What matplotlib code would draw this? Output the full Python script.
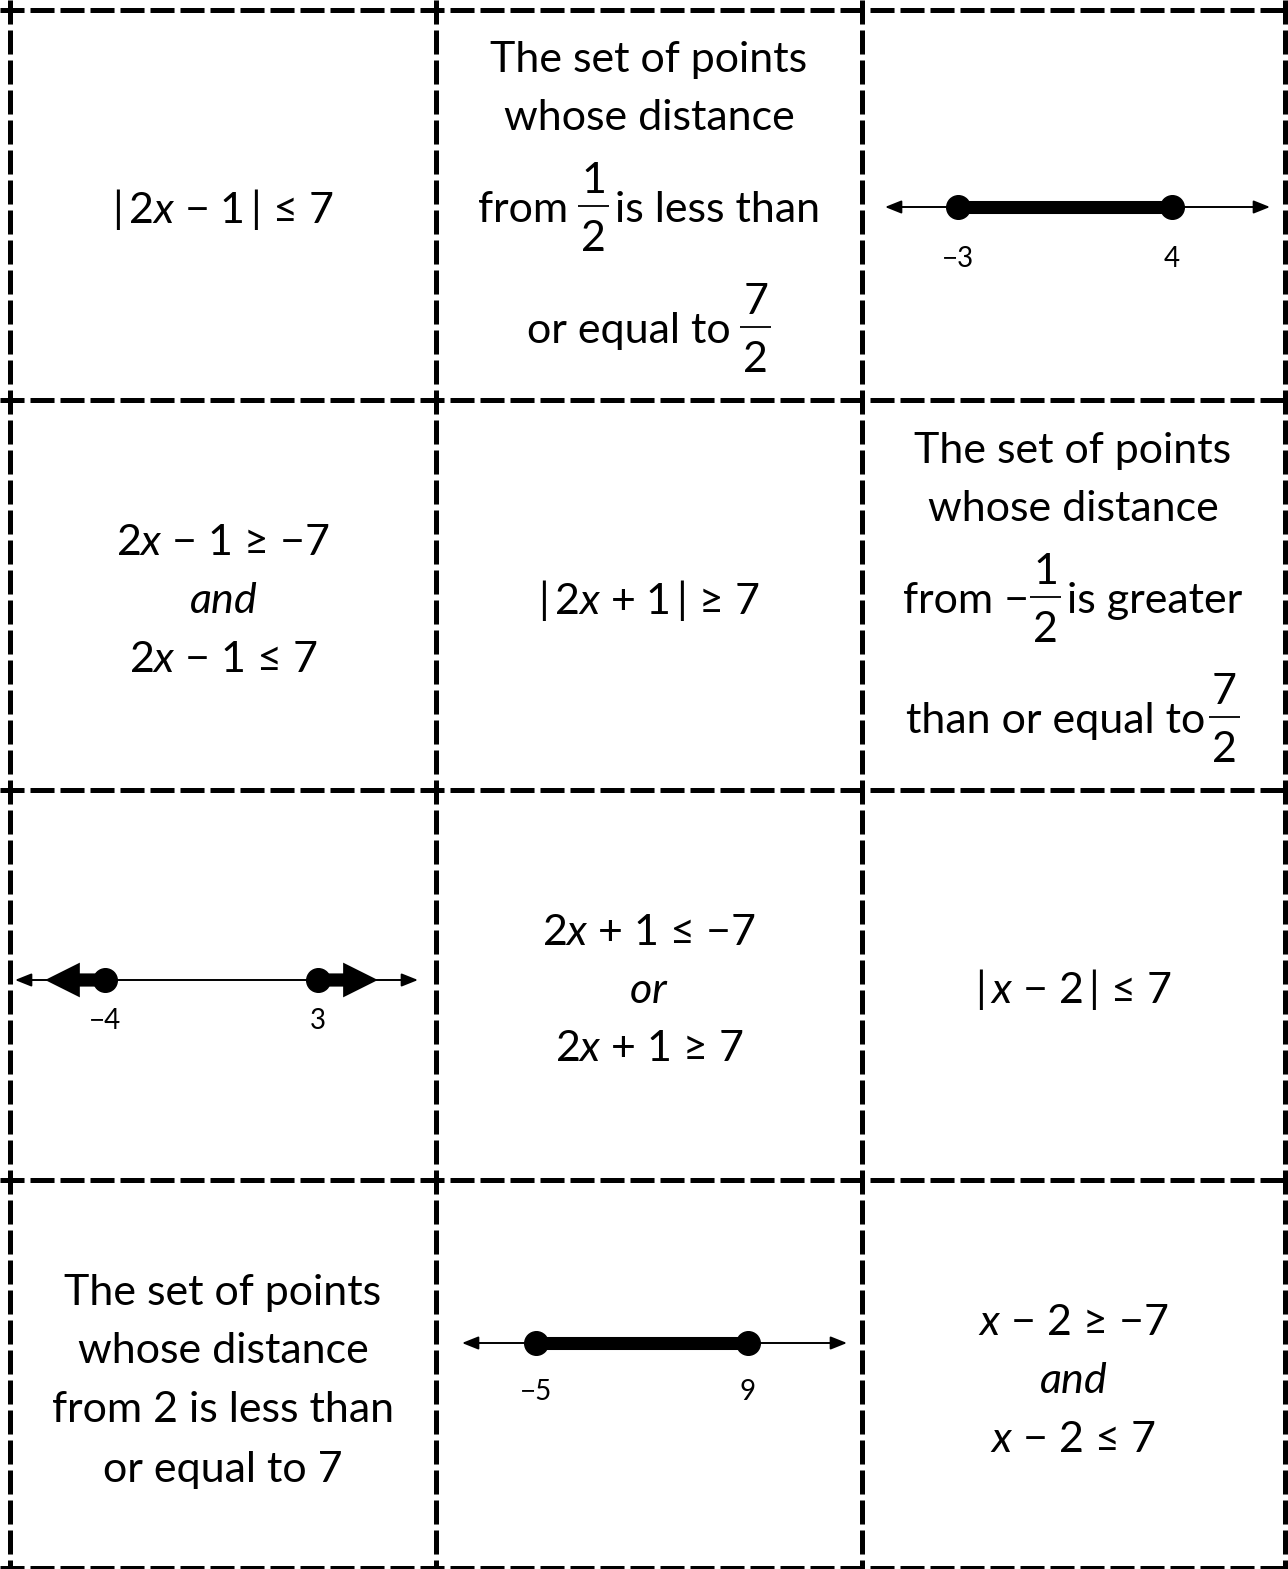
import matplotlib
matplotlib.use("Agg")
import matplotlib.pyplot as plt

plt.rcParams['font.family'] = ['Lato', 'DejaVu Sans']
plt.rcParams['mathtext.fontset'] = 'custom'
plt.rcParams['mathtext.rm'] = 'Lato'
plt.rcParams['mathtext.it'] = 'Lato:italic'
plt.rcParams['lines.scale_dashes'] = False

W, H = 1288, 1569
FS = 31      # main text size
LFS = 20     # number-line label size
TS = "\u2009"  # thin space

# ---- data -------------------------------------------------------------
card_r1c0 = [f"|{TS}2$x$ − 1{TS}| ≤ 7"]
card_r1c1 = ["The set of points", "whose distance"]
frac_r1c1 = [("from", "1", "2", "is less than"), ("or equal to", "7", "2", "")]
card_r2c0 = [r"2$x$ − 1 ≥ −7", r"$and$", r"2$x$ − 1 ≤ 7"]
card_r2c1 = [f"|{TS}2$x$ + 1{TS}| ≥ 7"]
card_r2c2 = ["The set of points", "whose distance"]
frac_r2c2 = [("from −", "1", "2", "is greater"), ("than or equal to", "7", "2", "")]
card_r3c1 = [r"2$x$ + 1 ≤ −7", r"$or$", r"2$x$ + 1 ≥ 7"]
card_r3c2 = [f"|{TS}$x$ − 2{TS}| ≤ 7"]
card_r4c0 = ["The set of points", "whose distance",
             "from 2 is less than", "or equal to 7"]
card_r4c2 = [r"$x$ − 2 ≥ −7", r"$and$", r"$x$ − 2 ≤ 7"]

nl1_points = [-3, 4]
nl1_labels = ["−3", "4"]
nl2_points = [-4, 3]
nl2_labels = ["−4", "3"]
nl3_points = [-5, 9]
nl3_labels = ["−5", "9"]

# ---- layout -----------------------------------------------------------
col_x = [10, 436, 862, 1285]
row_y = [10, 400, 790, 1180, 1568]
col_c = [223, 649, 1073]

fig = plt.figure(figsize=(W / 100, H / 100), dpi=100)
ax = fig.add_axes([0, 0, 1, 1])
ax.set_xlim(0, W)
ax.set_ylim(H, 0)
ax.axis('off')
renderer = fig.canvas.get_renderer()

lw_border = 3.6
dash = (17.3, 4.3)
for x in col_x:
    ax.plot([x, x], [0, H], color='black', lw=lw_border, dashes=dash,
            solid_capstyle='butt', dash_capstyle='butt')
for y in row_y:
    ax.plot([0, W], [y, y], color='black', lw=lw_border, dashes=dash,
            solid_capstyle='butt', dash_capstyle='butt')


def put_lines(lines, xc, baselines):
    for s, yb in zip(lines, baselines):
        ax.text(xc, yb, s, ha='center', va='baseline', fontsize=FS, color='black')


def text_w(s):
    if not s:
        return 0.0
    t = ax.text(0, 0, s, fontsize=FS)
    w = t.get_window_extent(renderer).width
    t.remove()
    return w


def put_frac_line(spec, xc, yb, gap_l=10, gap_r=6):
    pre, num, den, post = spec
    wp, ws = text_w(pre), text_w(post)
    wf = max(text_w(num), text_w(den)) + 6
    gr = gap_r if post else 0
    total = wp + gap_l + wf + gr + ws
    x0 = xc - total / 2
    ax.text(x0, yb, pre, ha='left', va='baseline', fontsize=FS)
    fx = x0 + wp + gap_l + wf / 2
    ax.text(fx, yb - 29, num, ha='center', va='baseline', fontsize=FS)
    ax.text(fx, yb + 29, den, ha='center', va='baseline', fontsize=FS)
    ax.plot([fx - wf / 2, fx + wf / 2], [yb - 16, yb - 16], color='black', lw=1.3,
            solid_capstyle='butt')
    if post:
        ax.text(x0 + wp + gap_l + wf + gr, yb, post, ha='left', va='baseline', fontsize=FS)


put_lines(card_r1c0, col_c[0], [223])
put_lines(card_r1c1, col_c[1], [72, 130])
put_frac_line(frac_r1c1[0], col_c[1], 222)
put_frac_line(frac_r1c1[1], col_c[1], 343)
put_lines(card_r2c0, col_c[0], [555, 613, 672])
put_lines(card_r2c1, col_c[1], [614])
put_lines(card_r2c2, col_c[2], [463, 521])
put_frac_line(frac_r2c2[0], col_c[2], 613, gap_l=1)
put_frac_line(frac_r2c2[1], col_c[2], 733, gap_l=3)
put_lines(card_r3c1, col_c[1], [945, 1003, 1061])
put_lines(card_r3c2, col_c[2], [1003])
put_lines(card_r4c0, col_c[0], [1305, 1363, 1422, 1482])
put_lines(card_r4c2, col_c[2], [1335, 1393, 1452])


def numline_axes(left, right, yc, xlim):
    h = 80
    a = fig.add_axes([left / W, 1 - (yc + h / 2) / H, (right - left) / W, h / H])
    a.set_xlim(*xlim)
    a.set_ylim(-1, 1)
    a.axis('off')
    a.annotate('', xy=(xlim[1], 0), xytext=(xlim[0], 0),
               arrowprops=dict(arrowstyle='<|-|>,head_length=0.55,head_width=0.22',
                               lw=1.4, color='black', shrinkA=0, shrinkB=0,
                               mutation_scale=18))
    return a


def labels(a, pts, labs, off_px):
    for p, t in zip(pts, labs):
        a.annotate(t, xy=(p, 0), xytext=(0, -off_px * 0.72), textcoords='offset points',
                   ha='center', va='center', fontsize=LFS)


a1 = numline_axes(885, 1270, 207, (-5.39, 7.21))
a1.plot(nl1_points, [0, 0], color='black', lw=9.4, solid_capstyle='butt')
a1.plot(nl1_points, [0, 0], 'o', color='black', ms=17, clip_on=False)
labels(a1, nl1_points, nl1_labels, 52)

a2 = numline_axes(15, 418, 980, (-6.96, 6.29))
ray_len = 1.97
for p, d in zip(nl2_points, [-1, 1]):
    a2.annotate('', xy=(p + d * ray_len, 0), xytext=(p, 0),
                arrowprops=dict(arrowstyle='simple,head_length=2.5,head_width=2.5,tail_width=0.95',
                                color='black', lw=0, shrinkA=0, shrinkB=0,
                                mutation_scale=10))
a2.plot(nl2_points, [0, 0], 'o', color='black', ms=17, clip_on=False)
labels(a2, nl2_points, nl2_labels, 41)

a3 = numline_axes(462, 847, 1343, (-9.89, 15.54))
a3.plot(nl3_points, [0, 0], color='black', lw=9.4, solid_capstyle='butt')
a3.plot(nl3_points, [0, 0], 'o', color='black', ms=17, clip_on=False)
labels(a3, nl3_points, nl3_labels, 49)

fig.savefig('out.png', dpi=100, facecolor='white')
